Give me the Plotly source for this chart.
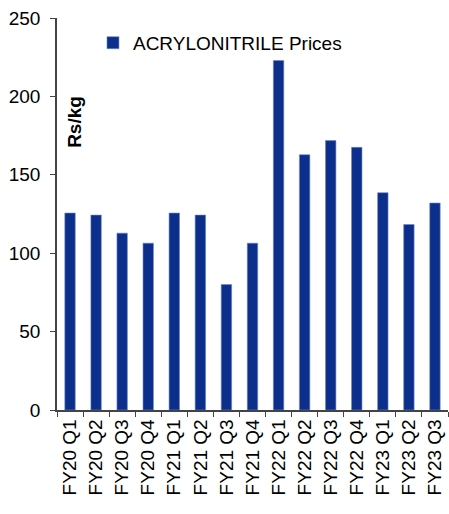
import plotly.graph_objects as go

# Quarterly acrylonitrile prices (Rs/kg)
quarters = ["FY20 Q1", "FY20 Q2", "FY20 Q3", "FY20 Q4",
            "FY21 Q1", "FY21 Q2", "FY21 Q3", "FY21 Q4",
            "FY22 Q1", "FY22 Q2", "FY22 Q3", "FY22 Q4",
            "FY23 Q1", "FY23 Q2", "FY23 Q3"]
prices = [125.6, 124.3, 112.8, 106.4,
          125.6, 124.3, 80.0, 106.4,
          222.9, 162.8, 171.8, 167.5,
          138.6, 118.3, 132.0]
y_ticks = [0, 50, 100, 150, 200, 250]

fig = go.Figure()
fig.add_trace(go.Bar(
    x=quarters,
    y=prices,
    name="ACRYLONITRILE Prices",
    marker=dict(color="#0C2F8C", line=dict(color="#6F86C4", width=0.6)),
))

fig.update_layout(
    width=449,
    height=514,
    margin=dict(l=57, r=1, t=18, b=104),
    paper_bgcolor="white",
    plot_bgcolor="white",
    font=dict(family="Liberation Sans, Arial, sans-serif", size=19, color="#000"),
    bargap=0.6,
    showlegend=True,
    legend=dict(x=0.092, y=0.985, xanchor="left", yanchor="top",
                bgcolor="rgba(0,0,0,0)", font=dict(size=19),
                itemwidth=30),
    xaxis=dict(
        tickangle=-90,
        showline=True, linecolor="#444", linewidth=1.5,
        ticks="outside", tickson="boundaries", ticklen=5, tickcolor="#444",
        showgrid=False, automargin=False,
        tickfont=dict(size=19),
    ),
    yaxis=dict(
        range=[0, 250],
        tickvals=y_ticks,
        showline=True, linecolor="#444", linewidth=1.5,
        ticks="outside", ticklen=5, tickcolor="#444",
        showgrid=False, zeroline=False, automargin=False,
        ticklabelstandoff=6,
        tickfont=dict(size=19),
    ),
    annotations=[dict(
        text="<b>Rs/kg</b>", textangle=-90,
        xref="paper", yref="paper", x=0.046, y=0.735,
        xanchor="center", yanchor="middle",
        showarrow=False, font=dict(size=19, color="#000"),
    )],
)

fig.write_html("out.html", config={"displayModeBar": False},
               post_script="document.body.style.margin='0';")
